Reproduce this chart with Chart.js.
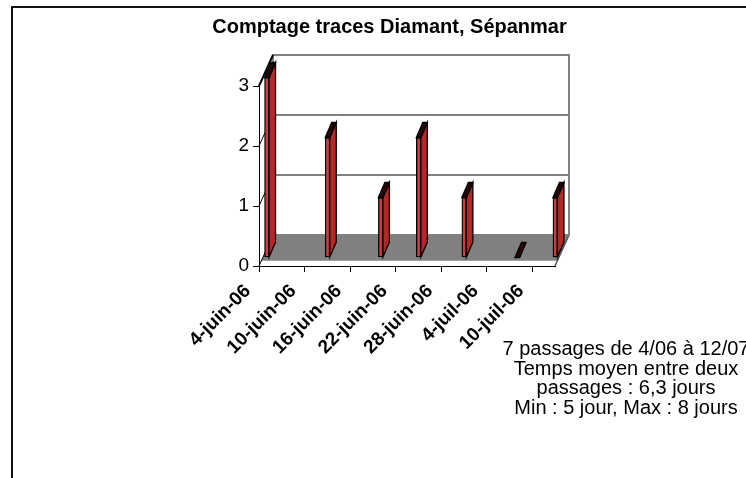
<!DOCTYPE html>
<html>
<head>
<meta charset="utf-8">
<script src="https://cdn.jsdelivr.net/npm/chart.js@4.4.0/dist/chart.umd.min.js"></script>
<style>
  html, body { margin: 0; padding: 0; background: #fff; }
  #wrap { position: relative; width: 746px; height: 478px; overflow: hidden; }
  #frame { position: absolute; left: 11px; top: 6px; width: 780px; height: 520px;
           border-left: 2px solid #111; border-top: 2px solid #111; }
  #chart { position: absolute; left: 0; top: 0; }
</style>
</head>
<body>
<div id="wrap">
  <div id="frame"></div>
  <canvas id="chart" width="746" height="478"></canvas>
</div>
<script>
// one category per day, 4 June -> 12 July 2006
const days = [
  '4-juin-06', '5-juin-06', '6-juin-06', '7-juin-06', '8-juin-06', '9-juin-06',
  '10-juin-06', '11-juin-06', '12-juin-06', '13-juin-06', '14-juin-06', '15-juin-06',
  '16-juin-06', '17-juin-06', '18-juin-06', '19-juin-06', '20-juin-06', '21-juin-06',
  '22-juin-06', '23-juin-06', '24-juin-06', '25-juin-06', '26-juin-06', '27-juin-06',
  '28-juin-06', '29-juin-06', '30-juin-06', '1-juil-06', '2-juil-06', '3-juil-06',
  '4-juil-06', '5-juil-06', '6-juil-06', '7-juil-06', '8-juil-06', '9-juil-06',
  '10-juil-06', '11-juil-06', '12-juil-06'
];
const tickLabels = ['4-juin-06', '10-juin-06', '16-juin-06', '22-juin-06', '28-juin-06', '4-juil-06', '10-juil-06'];

// passages and number of traces counted
const passageDates = ['4-juin-06', '12-juin-06', '19-juin-06', '24-juin-06', '30-juin-06', '7-juil-06', '12-juil-06'];
const passageCounts = [3, 2, 1, 2, 1, 0, 1];

const title = 'Comptage traces Diamant, Sépanmar';
const notes = [
  '7 passages de 4/06 à 12/07',
  'Temps moyen entre deux',
  'passages : 6,3 jours',
  'Min : 5 jour, Max : 8 jours'
];

// fake 3D look (Excel style)
const WALL_DX = 14, WALL_DY = -31;
const BAR_DX = 4, BAR_DY = -8.5;
const DEPTH_X = 6.5, DEPTH_Y = -15;
const FONT = '"Liberation Sans", Arial, sans-serif';

const fake3d = {
  id: 'fake3d',
  beforeDatasetsDraw(chart) {
    const { ctx, chartArea: a, scales: { y } } = chart;
    const y0 = y.getPixelForValue(0);
    const yTop = y.getPixelForValue(3);
    ctx.save();
    // floor
    const k = 0.17;
    ctx.fillStyle = '#808080';
    ctx.beginPath();
    ctx.moveTo(a.left + WALL_DX, y0 + WALL_DY);
    ctx.lineTo(a.right + WALL_DX, y0 + WALL_DY);
    ctx.lineTo(a.right + WALL_DX * k, y0 + WALL_DY * k);
    ctx.lineTo(a.left + WALL_DX * k, y0 + WALL_DY * k);
    ctx.closePath();
    ctx.fill();
    ctx.strokeStyle = '#555';
    ctx.lineWidth = 1.5;
    ctx.beginPath();
    ctx.moveTo(a.right + WALL_DX, y0 + WALL_DY);
    ctx.lineTo(a.right, y0);
    ctx.stroke();
    // back wall + gridlines
    ctx.strokeStyle = '#808080';
    ctx.lineWidth = 2;
    ctx.strokeRect(a.left + WALL_DX, yTop + WALL_DY, a.right - a.left, y0 - yTop);
    [1, 2].forEach(v => {
      const py = y.getPixelForValue(v) + WALL_DY;
      ctx.beginPath();
      ctx.moveTo(a.left + WALL_DX, py);
      ctx.lineTo(a.right + WALL_DX, py);
      ctx.stroke();
    });
    // left wall
    ctx.strokeStyle = '#000';
    [0, 1, 2, 3].forEach(v => {
      const py = y.getPixelForValue(v);
      ctx.lineWidth = v === 3 ? 2 : 1;
      ctx.beginPath();
      ctx.moveTo(a.left, py);
      ctx.lineTo(a.left + WALL_DX, py + WALL_DY);
      ctx.stroke();
    });
    ctx.restore();
    ctx.save();
    ctx.translate(BAR_DX, BAR_DY);
  },
  afterDatasetsDraw(chart) {
    const { ctx } = chart;
    const meta = chart.getDatasetMeta(0);
    ctx.lineWidth = 1.3;
    ctx.strokeStyle = '#000';
    meta.data.forEach(bar => {
      const { x, y, base, width } = bar.getProps(['x', 'y', 'base', 'width'], true);
      const l = x - width / 2, r = x + width / 2;
      // side
      ctx.fillStyle = '#b52828';
      ctx.beginPath();
      ctx.moveTo(r, y);
      ctx.lineTo(r + DEPTH_X, y + DEPTH_Y);
      ctx.lineTo(r + DEPTH_X, base + DEPTH_Y);
      ctx.lineTo(r, base);
      ctx.closePath();
      ctx.fill();
      ctx.stroke();
      // top
      ctx.fillStyle = '#2a0505';
      ctx.beginPath();
      ctx.moveTo(l, y);
      ctx.lineTo(l + DEPTH_X, y + DEPTH_Y);
      ctx.lineTo(r + DEPTH_X, y + DEPTH_Y);
      ctx.lineTo(r, y);
      ctx.closePath();
      ctx.fill();
      ctx.stroke();
    });
    ctx.restore();

    ctx.save();
    ctx.fillStyle = '#000';
    ctx.textAlign = 'center';
    // title
    ctx.font = 'bold 20px ' + FONT;
    ctx.textBaseline = 'middle';
    ctx.fillText(title, 389.5, 27);
    // text box
    ctx.font = '20px ' + FONT;
    ctx.textBaseline = 'alphabetic';
    notes.forEach((t, i) => ctx.fillText(t, 626, 355 + i * 19.5));
    ctx.restore();
  }
};

new Chart(document.getElementById('chart'), {
  type: 'bar',
  data: {
    labels: days,
    datasets: [{
      label: 'Traces',
      data: passageDates.map((d, i) => ({ x: d, y: passageCounts[i] })),
      backgroundColor: '#d03e3e',
      borderColor: '#000',
      borderWidth: 1.3,
      borderSkipped: false,
      barThickness: 4.5,
      clip: false
    }]
  },
  options: {
    responsive: false,
    animation: false,
    layout: { padding: { left: 224, right: 191, top: 86, bottom: 0 } },
    plugins: {
      legend: { display: false },
      tooltip: { enabled: false },
      title: { display: false }
    },
    scales: {
      x: {
        type: 'category',
        offset: true,
        grid: {
          offset: true,
          drawOnChartArea: false,
          tickLength: 6,
          color: c => (c.index !== undefined && c.index % 6 === 0) ? '#000' : 'rgba(0,0,0,0)'
        },
        border: { color: '#000', width: 1 },
        ticks: {
          autoSkip: false,
          minRotation: 45,
          maxRotation: 45,
          padding: 8,
          labelOffset: -15,
          color: '#000',
          font: { family: FONT, size: 19, weight: 'bold' },
          callback: (v, i) => tickLabels.includes(days[i]) ? days[i] : ''
        },
        afterFit: s => { s.height = 212; }
      },
      y: {
        min: 0,
        max: 3,
        grid: { drawOnChartArea: false, tickLength: 6, color: '#000' },
        border: { color: '#000', width: 1 },
        ticks: {
          stepSize: 1,
          padding: 4,
          color: '#000',
          font: { family: FONT, size: 19 }
        },
        afterFit: s => { s.width = 35; }
      }
    }
  },
  plugins: [fake3d]
});
</script>
</body>
</html>
